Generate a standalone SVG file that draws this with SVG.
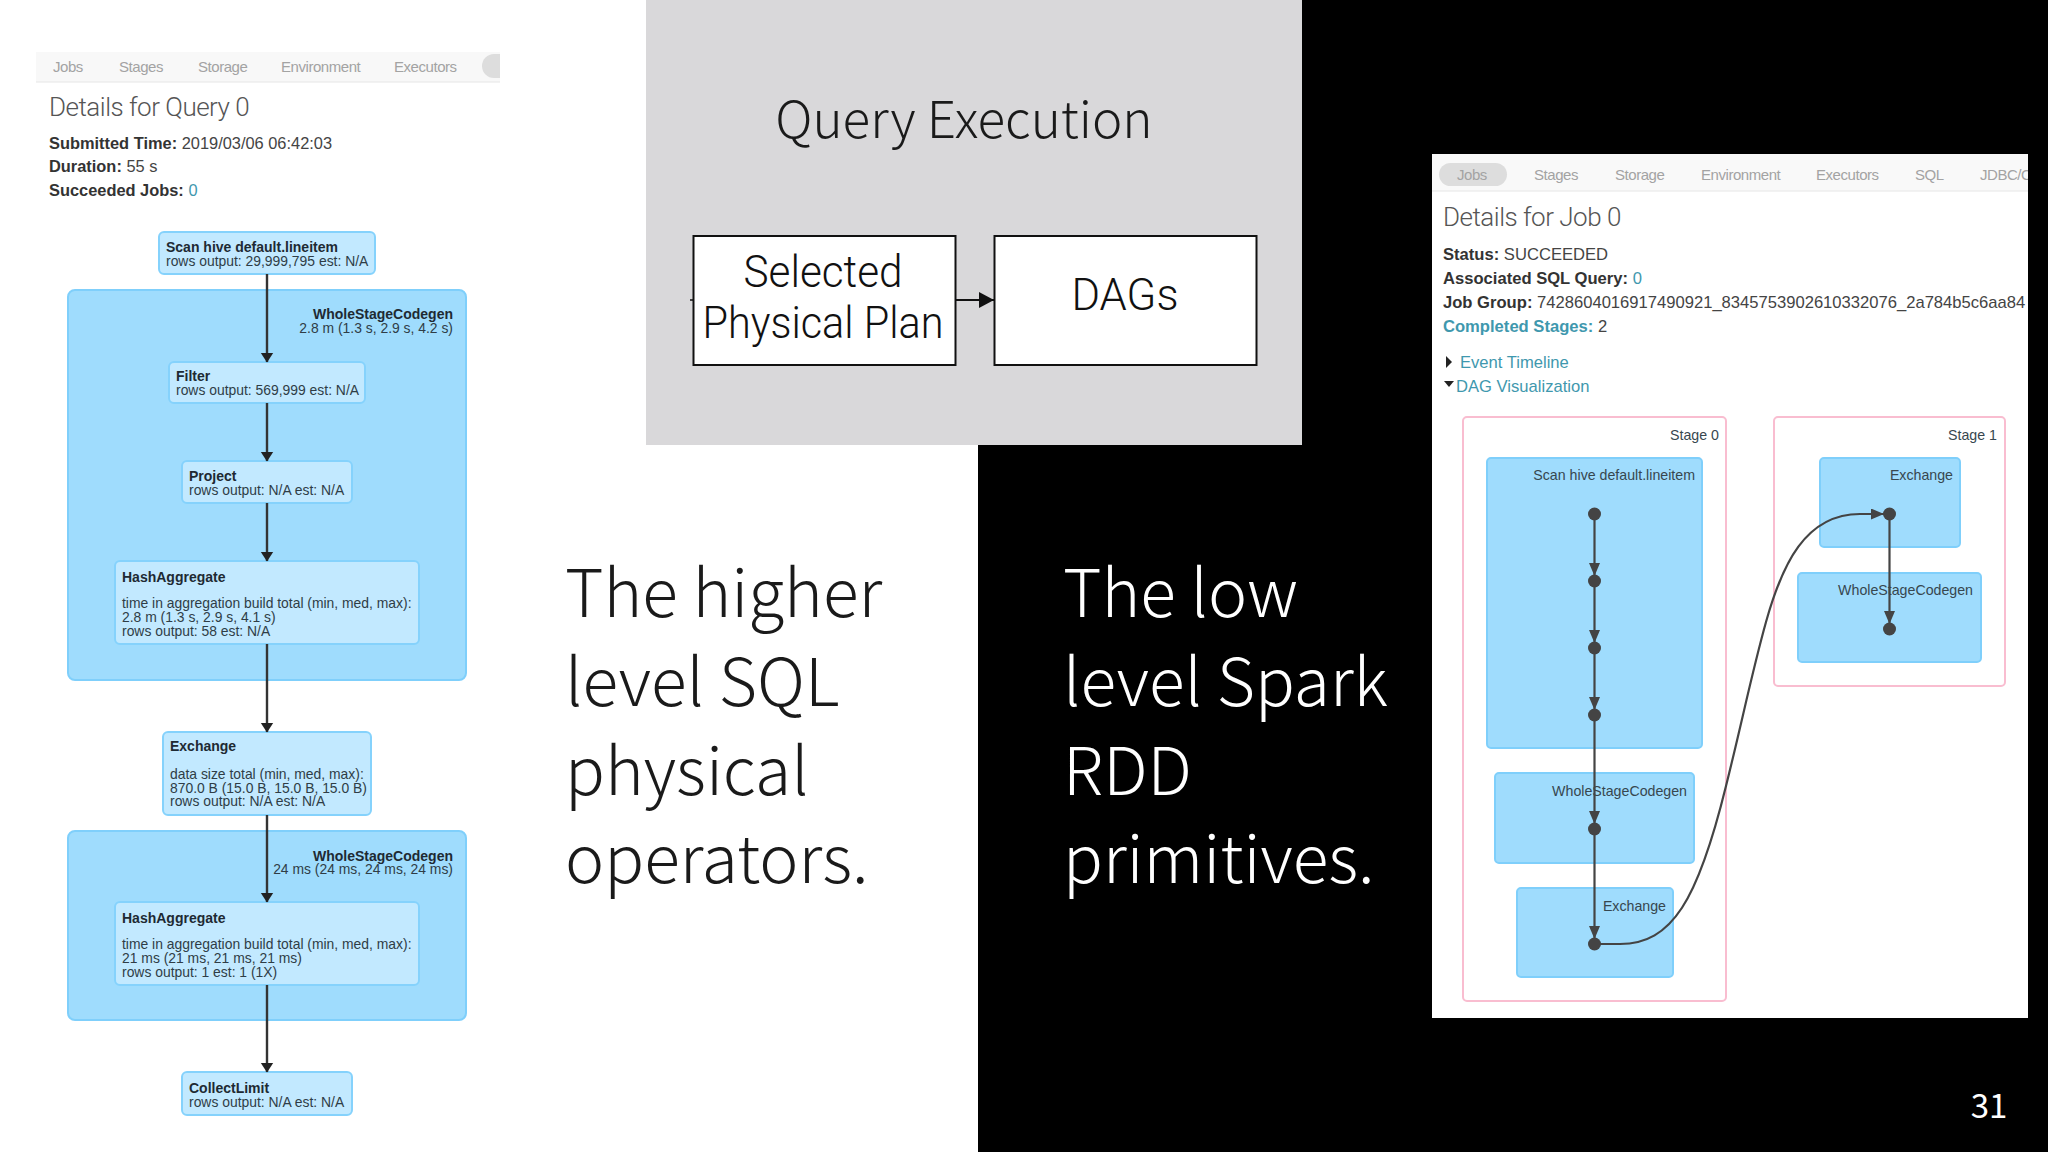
<svg xmlns="http://www.w3.org/2000/svg" width="2048" height="1152" viewBox="0 0 2048 1152">
<style>
text{font-family:"Liberation Sans",Arial,sans-serif;fill:#2a3a44}
.tab{font-size:15px;fill:#a3a3a3;font-family:"Liberation Sans",sans-serif;letter-spacing:-.45px}
.h{font-size:26px;font-family:Roboto,"Liberation Sans",sans-serif;font-weight:300;fill:#555;letter-spacing:-.5px}
.m{font-size:16.4px;fill:#444}
.mr{font-size:16.6px;fill:#444}
.b{font-weight:700;fill:#333}
.lnk{fill:#3f98ae}
.t{font-size:14px;font-weight:700;fill:#1e2a33}
.d{font-size:13.9px;fill:#2f3d46}
.big{font-family:"Noto Sans CJK JP","Noto Sans",sans-serif;font-weight:300;font-size:66px}
.sm{font-size:14.2px;fill:#37474f}
.cl{fill:#9fdcfd;stroke:#7fcffb;stroke-width:2}
.nd{fill:#c2e9ff;stroke:#85d2fc;stroke-width:2}
.rb{fill:#9fdcfd;stroke:#7fcffb;stroke-width:2}
.st{fill:#fff;stroke:#f9bdd0;stroke-width:2}
.ed{fill:none;stroke:#333;stroke-width:2.4}
.re{fill:none;stroke:#444;stroke-width:2.2}
.pl{fill:#fff;stroke:#111;stroke-width:2}
.pt{font-family:Roboto,"Liberation Sans",sans-serif;font-weight:300;font-size:44px;fill:#111;text-anchor:middle}
.dot{fill:#444}
</style>
<defs>
<marker id="a" markerUnits="userSpaceOnUse" markerWidth="11" markerHeight="14" refX="9.5" refY="6.5" orient="auto"><path d="M0 0L10 6.5L0 13Z" fill="#222"/></marker>
<marker id="r" markerUnits="userSpaceOnUse" markerWidth="14" markerHeight="12" refX="13" refY="5.5" orient="auto"><path d="M0 0L13 5.5L0 11Z" fill="#444"/></marker>
<marker id="p" markerUnits="userSpaceOnUse" markerWidth="16" markerHeight="16" refX="15" refY="8" orient="auto"><path d="M0 0L15 8L0 16Z" fill="#111"/></marker>
<clipPath id="pc"><rect x="1432" y="154" width="596" height="864"/></clipPath>
</defs>
<rect width="2048" height="1152" fill="#fff"/>
<rect x="978" width="1070" height="1152" fill="#000"/>

<g id="sql-page">
<rect x="36" y="52" width="464" height="30" fill="#f8f8f8"/>
<path d="M36 82H500" stroke="#e6e6e6" fill="none"/>
<path d="M500 54H494A12 12 0 0 0 494 78H500Z" fill="#ddd"/>
<text class="tab" x="53" y="72">Jobs</text><text class="tab" x="119" y="72">Stages</text><text class="tab" x="198" y="72">Storage</text><text class="tab" x="281" y="72">Environment</text><text class="tab" x="394" y="72">Executors</text>
<text class="h" x="49" y="116">Details for Query 0</text>
<text class="m" x="49" y="149"><tspan class="b">Submitted Time:</tspan> 2019/03/06 06:42:03</text>
<text class="m" x="49" y="172"><tspan class="b">Duration:</tspan> 55 s</text>
<text class="m" x="49" y="196"><tspan class="b">Succeeded Jobs:</tspan> <tspan class="lnk">0</tspan></text>
</g>

<g id="wsc1"><rect class="cl" x="68" y="290" width="398" height="390" rx="7"/><text class="t" x="453" y="319" text-anchor="end">WholeStageCodegen</text><text class="d" x="453" y="333" text-anchor="end">2.8 m (1.3 s, 2.9 s, 4.2 s)</text></g>
<g id="wsc2"><rect class="cl" x="68" y="831" width="398" height="189" rx="7"/><text class="t" x="453" y="861" text-anchor="end">WholeStageCodegen</text><text class="d" x="453" y="874" text-anchor="end">24 ms (24 ms, 24 ms, 24 ms)</text></g>
<g id="scan"><rect class="nd" x="159" y="232" width="216" height="42" rx="5"/><text class="t" x="166" y="252">Scan hive default.lineitem</text><text class="d" x="166" y="266">rows output: 29,999,795 est: N/A</text></g>
<g id="filter"><rect class="nd" x="169" y="362" width="196" height="41" rx="5"/><text class="t" x="176" y="381">Filter</text><text class="d" x="176" y="395">rows output: 569,999 est: N/A</text></g>
<g id="project"><rect class="nd" x="182" y="461" width="170" height="42" rx="5"/><text class="t" x="189" y="481">Project</text><text class="d" x="189" y="495">rows output: N/A est: N/A</text></g>
<g id="hash1"><rect class="nd" x="115" y="561" width="304" height="83" rx="5"/><text class="t" x="122" y="582">HashAggregate</text><text class="d" x="122" y="608">time in aggregation build total (min, med, max):</text><text class="d" x="122" y="622">2.8 m (1.3 s, 2.9 s, 4.1 s)</text><text class="d" x="122" y="636">rows output: 58 est: N/A</text></g>
<g id="exchange"><rect class="nd" x="163" y="732" width="208" height="83" rx="5"/><text class="t" x="170" y="751">Exchange</text><text class="d" x="170" y="779">data size total (min, med, max):</text><text class="d" x="170" y="793">870.0 B (15.0 B, 15.0 B, 15.0 B)</text><text class="d" x="170" y="806">rows output: N/A est: N/A</text></g>
<g id="hash2"><rect class="nd" x="115" y="902" width="304" height="83" rx="5"/><text class="t" x="122" y="923">HashAggregate</text><text class="d" x="122" y="949">time in aggregation build total (min, med, max):</text><text class="d" x="122" y="963">21 ms (21 ms, 21 ms, 21 ms)</text><text class="d" x="122" y="977">rows output: 1 est: 1 (1X)</text></g>
<g id="collect"><rect class="nd" x="182" y="1072" width="170" height="43" rx="5"/><text class="t" x="189" y="1093">CollectLimit</text><text class="d" x="189" y="1107">rows output: N/A est: N/A</text></g>

<g id="sql-connectors">
<path class="ed" marker-end="url(#a)" d="M267 274V362"/><path class="ed" marker-end="url(#a)" d="M267 403V461"/><path class="ed" marker-end="url(#a)" d="M267 503V561"/><path class="ed" marker-end="url(#a)" d="M267 644V732"/><path class="ed" marker-end="url(#a)" d="M267 815V902"/><path class="ed" marker-end="url(#a)" d="M267 985V1072"/>
</g>

<rect id="gray-panel" x="646" width="656" height="445" fill="#d9d8da"/>
<text class="big" x="964" y="138" text-anchor="middle" style="font-size:51.2px;fill:#1a1a1a">Query Execution</text>
<g id="selected-plan"><rect class="pl" x="693.5" y="236" width="262" height="129"/><text class="pt" x="823" y="287" textLength="159" lengthAdjust="spacingAndGlyphs">Selected</text><text class="pt" x="823" y="338" textLength="241" lengthAdjust="spacingAndGlyphs">Physical Plan</text></g>
<g id="dags"><rect class="pl" x="994.5" y="236" width="262" height="129"/><text class="pt" x="1125" y="310" textLength="107" lengthAdjust="spacingAndGlyphs">DAGs</text></g>
<g id="plan-connectors"><path marker-end="url(#p)" d="M956 300H994" fill="none" stroke="#111" stroke-width="2"/><path d="M690 300H693" stroke="#111" stroke-width="1.5"/></g>

<g id="left-caption"><text class="big" style="fill:#1a1a1a" x="565" y="617">The higher</text><text class="big" style="fill:#1a1a1a" x="565" y="706">level SQL</text><text class="big" style="fill:#1a1a1a" x="565" y="795">physical</text><text class="big" style="fill:#1a1a1a" x="565" y="883">operators.</text></g>
<g id="right-caption"><text class="big" style="fill:#fff" x="1063" y="617">The low</text><text class="big" style="fill:#fff" x="1063" y="706">level Spark</text><text class="big" style="fill:#fff" x="1063" y="795">RDD</text><text class="big" style="fill:#fff" x="1063" y="883">primitives.</text></g>
<text id="page-number" x="1989" y="1118" text-anchor="middle" style="font-family:'Noto Sans CJK JP','Noto Sans',sans-serif;font-size:33px;fill:#fff">31</text>

<rect id="job-panel" x="1432" y="154" width="596" height="864" fill="#fff"/>
<g id="job-page" clip-path="url(#pc)">
<rect x="1432" y="154" width="596" height="37" fill="#f9f9f9"/>
<path d="M1432 191H2028" stroke="#e6e6e6" fill="none"/>
<rect x="1439" y="163" width="68" height="23" rx="11.5" fill="#ddd"/>
<text class="tab" x="1457" y="180">Jobs</text><text class="tab" x="1534" y="180">Stages</text><text class="tab" x="1615" y="180">Storage</text><text class="tab" x="1701" y="180">Environment</text><text class="tab" x="1816" y="180">Executors</text><text class="tab" x="1915" y="180">SQL</text><text class="tab" x="1980" y="180">JDBC/O</text>
<text class="h" x="1443" y="226">Details for Job 0</text>
<text class="mr" x="1443" y="260"><tspan class="b">Status:</tspan> SUCCEEDED</text>
<text class="mr" x="1443" y="284"><tspan class="b">Associated SQL Query:</tspan> <tspan class="lnk">0</tspan></text>
<text class="mr" x="1443" y="308"><tspan class="b">Job Group:</tspan> 7428604016917490921_8345753902610332076_2a784b5c6aa84</text>
<text class="mr" x="1443" y="332"><tspan class="b lnk" style="fill:#3f98ae">Completed Stages:</tspan> 2</text>
<path d="M1446 356L1452 362L1446 368Z" fill="#222"/><text class="mr lnk" style="fill:#3f98ae" x="1460" y="368">Event Timeline</text>
<path d="M1444 381H1454L1449 387Z" fill="#222"/><text class="mr lnk" style="fill:#3f98ae" x="1456" y="392">DAG Visualization</text>
</g>
<g id="stage0"><rect class="st" x="1463" y="417" width="263" height="584" rx="4"/><text class="sm" x="1719" y="440" text-anchor="end">Stage 0</text></g>
<g id="stage1"><rect class="st" x="1774" y="417" width="231" height="269" rx="4"/><text class="sm" x="1997" y="440" text-anchor="end">Stage 1</text></g>
<g id="rdd-scan"><rect class="rb" x="1487" y="458" width="215" height="290" rx="4"/><text class="sm" x="1695" y="480" text-anchor="end">Scan hive default.lineitem</text></g>
<g id="rdd-wsc0"><rect class="rb" x="1495" y="773" width="199" height="90" rx="4"/><text class="sm" x="1687" y="796" text-anchor="end">WholeStageCodegen</text></g>
<g id="rdd-exchange0"><rect class="rb" x="1517" y="888" width="156" height="89" rx="4"/><text class="sm" x="1666" y="911" text-anchor="end">Exchange</text></g>
<g id="rdd-exchange1"><rect class="rb" x="1820" y="458" width="140" height="89" rx="4"/><text class="sm" x="1953" y="480" text-anchor="end">Exchange</text></g>
<g id="rdd-wsc1"><rect class="rb" x="1798" y="573" width="183" height="89" rx="4"/><text class="sm" x="1973" y="595" text-anchor="end">WholeStageCodegen</text></g>
<g id="rdd-connectors">
<path class="re" marker-end="url(#r)" d="M1594.5 514V576"/><path class="re" marker-end="url(#r)" d="M1594.5 581V643"/><path class="re" marker-end="url(#r)" d="M1594.5 648V710"/><path class="re" marker-end="url(#r)" d="M1594.5 715V824"/><path class="re" marker-end="url(#r)" d="M1594.5 829V939"/>
<path class="re" marker-end="url(#r)" d="M1889.5 514V624"/>
<path class="re" marker-end="url(#r)" d="M1594 944H1620C1672 944 1698 900 1726 786C1742 722 1752 672 1766 622C1782 565 1805 514 1860 514H1884"/>
<g class="dot"><circle cx="1594.5" cy="514" r="6.5"/><circle cx="1594.5" cy="581" r="6.5"/><circle cx="1594.5" cy="648" r="6.5"/><circle cx="1594.5" cy="715" r="6.5"/><circle cx="1594.5" cy="829" r="6.5"/><circle cx="1594.5" cy="944" r="6.5"/><circle cx="1889.5" cy="514" r="6.5"/><circle cx="1889.5" cy="629" r="6.5"/></g>
</g>
</svg>
